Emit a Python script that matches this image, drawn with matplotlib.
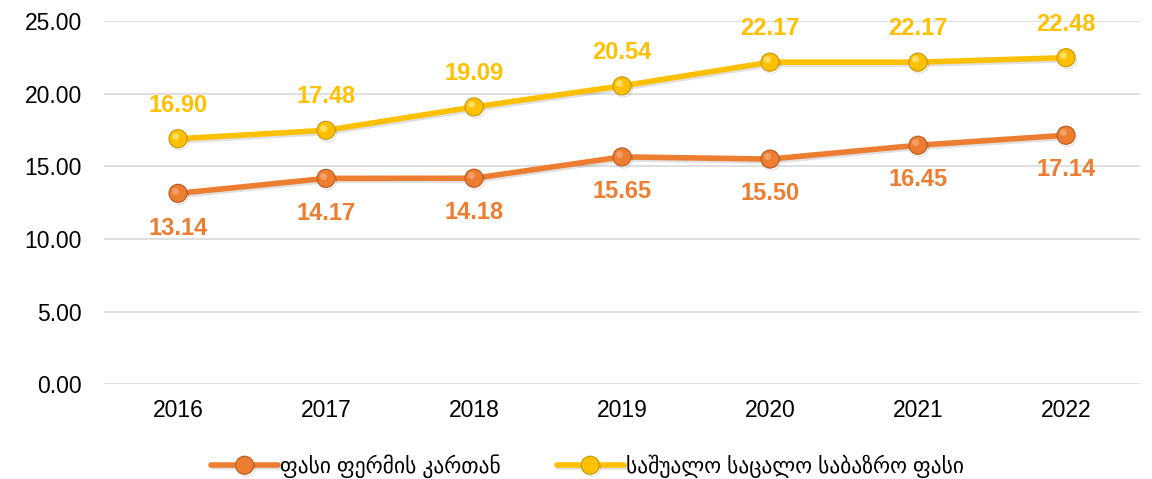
import matplotlib
matplotlib.use('Agg')

import matplotlib.pyplot as plt
import matplotlib.patheffects as pe

plt.rcParams['font.family'] = ['Liberation Sans', 'DejaVu Sans']

years = ['2016', '2017', '2018', '2019', '2020', '2021', '2022']
farm_price = [13.14, 14.17, 14.18, 15.65, 15.50, 16.45, 17.14]
retail_price = [16.90, 17.48, 19.09, 20.54, 22.17, 22.17, 22.48]
farm_label = 'ფასი ფერმის კართან'
retail_label = 'საშუალო საცალო საბაზრო ფასი'

orange = '#ED7D31'
yellow = '#FFC000'

fig = plt.figure(figsize=(11.52, 4.79), dpi=100)
ax = fig.add_axes([0.0903, 0.198, 0.8993, 0.758])

x = list(range(len(years)))
shadow = [pe.SimpleLineShadow(offset=(1, -1.5), alpha=0.12, shadow_color='black'), pe.Normal()]


def draw_series(vals, color, edge, hi, label):
    ax.plot(x, vals, color=color, lw=4, zorder=3, solid_capstyle='round',
            path_effects=shadow, label=label,
            marker='o', markersize=13, markerfacecolor=color, markeredgecolor=edge,
            markeredgewidth=0.8)
    # small highlight so the markers look a bit shaded
    ax.plot(x, vals, ls='none', marker='o', markersize=5, color=hi, alpha=0.6,
            zorder=4, markeredgewidth=0, transform=ax.transData +
            matplotlib.transforms.ScaledTranslation(-2 / 72, 2 / 72, fig.dpi_scale_trans))


draw_series(farm_price, orange, '#B85A1E', '#F8B58A', farm_label)
draw_series(retail_price, yellow, '#C89600', '#FFF1A0', retail_label)

for xi, v in zip(x, retail_price):
    ax.annotate('{:.2f}'.format(v), (xi, v), xytext=(0, 24), textcoords='offset points',
                ha='center', va='center', fontsize=17, fontweight='bold', color=yellow)
for xi, v in zip(x, farm_price):
    ax.annotate('{:.2f}'.format(v), (xi, v), xytext=(0, -25), textcoords='offset points',
                ha='center', va='center', fontsize=17, fontweight='bold', color=orange)

ax.set_xlim(-0.5, len(years) - 0.5)
ax.set_ylim(0, 25)
ax.set_yticks([0, 5, 10, 15, 20, 25])
ax.set_yticklabels(['{:.2f}'.format(t) for t in [0, 5, 10, 15, 20, 25]])
ax.set_xticks(x)
ax.set_xticklabels(years)
ax.tick_params(axis='both', length=0, labelsize=16.5, colors='#000000')
ax.tick_params(axis='y', pad=16)
ax.tick_params(axis='x', pad=11)
ax.grid(axis='y', color='#D9D9D9', lw=1.2)
ax.set_axisbelow(True)
for s in ax.spines.values():
    s.set_visible(False)

leg = fig.legend(loc='center', bbox_to_anchor=(0.51, 0.027), ncol=2, frameon=False,
                 fontsize=15.5, handlelength=3.1, columnspacing=2.6, handletextpad=0.1)

plt.savefig('out.png', dpi=100)
